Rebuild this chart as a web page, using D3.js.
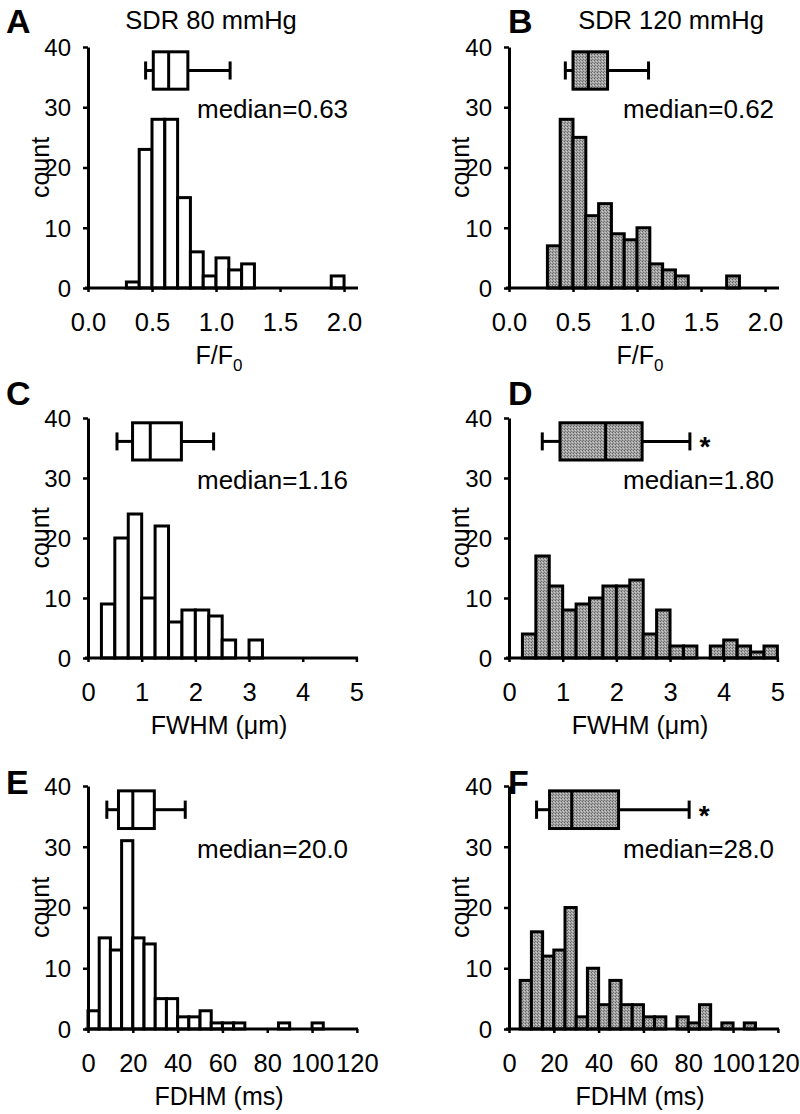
<!DOCTYPE html>
<html><head><meta charset="utf-8">
<script src="https://cdn.jsdelivr.net/npm/d3@7"></script>
<style>
body{margin:0;background:#fff}
text{font-family:"Liberation Sans",Arial,Helvetica,sans-serif;fill:#000}
</style>
</head><body>
<svg id="c" width="800" height="1114"></svg>
<script>
// ---------------- data ----------------
const titles = ["SDR 80 mmHg", "SDR 120 mmHg"];
const yTicks = [0, 10, 20, 30, 40];

const ampTicks = [0, 0.5, 1.0, 1.5, 2.0];
const ampBinStart80 = 0.3, ampBinStart120 = 0.3, ampBinWidth = 0.1;
const ampCount80  = [1, 23, 28, 28, 15, 6, 2, 5, 3, 4, 0, 0, 0, 0, 0, 0, 2];
const ampCount120 = [7, 28, 25, 12, 14, 9, 8, 10, 4, 3, 2, 0, 0, 0, 2];
const ampBox80  = [0.45, 0.51, 0.63, 0.78, 1.11];
const ampBox120 = [0.44, 0.50, 0.62, 0.77, 1.09];

const fwhmTicks = [0, 1, 2, 3, 4, 5];
const fwhmBinStart = 0.25, fwhmBinWidth = 0.25;
const fwhmCount80  = [9, 20, 24, 10, 22, 6, 8, 8, 7, 3, 0, 3];
const fwhmCount120 = [4, 17, 12, 8, 9, 10, 12, 12, 13, 4, 8, 2, 2, 0, 2, 3, 2, 1, 2];
const fwhmBox80  = [0.54, 0.83, 1.16, 1.74, 2.34];
const fwhmBox120 = [0.62, 0.95, 1.80, 2.48, 3.37];

const fdhmTicks = [0, 20, 40, 60, 80, 100, 120];
const fdhmBinStart80 = 0, fdhmBinStart120 = 5, fdhmBinWidth = 5;
const fdhmCount80  = [3, 15, 13, 31, 15, 14, 5, 5, 2, 2, 3, 1, 1, 1, 0, 0, 0, 1, 0, 0, 1];
const fdhmCount120 = [8, 16, 12, 13, 20, 2, 10, 4, 8, 4, 4, 2, 2, 0, 2, 1, 4, 0, 1, 0, 1];
const fdhmBox80  = [8.4, 13.6, 20.0, 29.6, 43.4];
const fdhmBox120 = [12.3, 18.1, 28.0, 48.9, 80.4];

const medianLabels = ["median=0.63", "median=0.62", "median=1.16", "median=1.80", "median=20.0", "median=28.0"];
const significant = [false, false, false, true, false, true];
const panelLetters = ["A", "B", "C", "D", "E", "F"];

// ---------------- layout ----------------
const svg = d3.select("#c");
const defs = svg.append("defs");
const pat = defs.append("pattern").attr("id", "stip").attr("width", 3).attr("height", 3)
  .attr("patternUnits", "userSpaceOnUse");
pat.append("rect").attr("width", 3).attr("height", 3).attr("fill", "#a0a0a0");
pat.append("rect").attr("x", 0).attr("y", 0).attr("width", 1).attr("height", 1).attr("fill", "#626262");
pat.append("rect").attr("x", 2).attr("y", 1).attr("width", 1).attr("height", 1).attr("fill", "#cdcdcd");
pat.append("rect").attr("x", 1).attr("y", 2).attr("width", 1).attr("height", 1).attr("fill", "#737373");
pat.append("rect").attr("x", 1).attr("y", 0).attr("width", 1).attr("height", 1).attr("fill", "#b8b8b8");

const cols = [{x0: 88, x1: 358, ylabX: 49, letX: 6, medX: 197, titleX: 211},
              {x0: 509, x1: 779, ylabX: 469, letX: 508, medX: 623, titleX: 671}];
const rows = [{y0: 288, y1: 47, letY: 33},
              {y0: 658, y1: 418, letY: 405},
              {y0: 1029, y1: 786, letY: 794}];

const FS_XTICK = 25.5, FS_YTICK = 24, FS_LAB = 25, FS_MED = 26, FS_TITLE = 25.5, FS_LET = 34;

const panels = [
  {counts: ampCount80,  start: ampBinStart80,  w: ampBinWidth,  box: ampBox80,  ticks: ampTicks,  dom: [0, 2.109], fmt: d3.format(".1f"), xl: "amp", fill: "#fff"},
  {counts: ampCount120, start: ampBinStart120, w: ampBinWidth,  box: ampBox120, ticks: ampTicks,  dom: [0, 2.109], fmt: d3.format(".1f"), xl: "amp", fill: "url(#stip)"},
  {counts: fwhmCount80, start: fwhmBinStart,   w: fwhmBinWidth, box: fwhmBox80, ticks: fwhmTicks, dom: [0, 5.03], fmt: d3.format("d"), xl: "FWHM (\u03bcm)", fill: "#fff"},
  {counts: fwhmCount120,start: fwhmBinStart,   w: fwhmBinWidth, box: fwhmBox120,ticks: fwhmTicks, dom: [0, 5.03], fmt: d3.format("d"), xl: "FWHM (\u03bcm)", fill: "url(#stip)"},
  {counts: fdhmCount80, start: fdhmBinStart80, w: fdhmBinWidth, box: fdhmBox80, ticks: fdhmTicks, dom: [0, 120.5], fmt: d3.format("d"), xl: "FDHM (ms)", fill: "#fff"},
  {counts: fdhmCount120,start: fdhmBinStart120,w: fdhmBinWidth, box: fdhmBox120,ticks: fdhmTicks, dom: [0, 120.5], fmt: d3.format("d"), xl: "FDHM (ms)", fill: "url(#stip)"}
];

function label(g, x, y, txt, size, opts = {}) {
  const t = g.append("text")
    .attr("transform", `translate(${x},${y})` + (opts.rotate ? ` rotate(${opts.rotate})` : ""))
    .attr("font-size", size)
    .attr("text-anchor", opts.anchor || "start");
  if (opts.bold) t.attr("font-weight", "bold");
  t.text(txt);
  return t;
}

// titles
titles.forEach((t, i) => label(svg, cols[i].titleX, 29, t, FS_TITLE, {anchor: "middle"}));

panels.forEach((p, i) => {
  const col = cols[i % 2], row = rows[Math.floor(i / 2)];
  const g = svg.append("g");
  const x = d3.scaleLinear().domain(p.dom).range([col.x0, col.x1]);
  const y = d3.scaleLinear().domain([0, 40]).range([row.y0, row.y1]);

  label(g, col.letX, row.letY, panelLetters[i], FS_LET, {bold: true});

  // histogram bars
  const bins = p.counts.map((c, k) => ({x0: p.start + k * p.w, x1: p.start + (k + 1) * p.w, c}))
    .filter(d => d.c > 0);
  g.selectAll("rect.bar").data(bins).join("rect").attr("class", "bar")
    .attr("x", d => x(d.x0)).attr("width", d => x(d.x1) - x(d.x0))
    .attr("y", d => y(d.c)).attr("height", d => y(0) - y(d.c))
    .attr("fill", p.fill).attr("stroke", "#000").attr("stroke-width", 3);

  // box plot
  const [lo, q1, med, q3, hi] = p.box;
  const bTop = 39.2, bBot = 33.0, bMid = 36.1, cap = 1.5;
  const sw = 3;
  g.append("line").attr("x1", x(lo)).attr("x2", x(q1)).attr("y1", y(bMid)).attr("y2", y(bMid))
    .attr("stroke", "#000").attr("stroke-width", sw);
  g.append("line").attr("x1", x(q3)).attr("x2", x(hi)).attr("y1", y(bMid)).attr("y2", y(bMid))
    .attr("stroke", "#000").attr("stroke-width", sw);
  [lo, hi].forEach(v => g.append("line").attr("x1", x(v)).attr("x2", x(v))
    .attr("y1", y(bMid - cap)).attr("y2", y(bMid + cap)).attr("stroke", "#000").attr("stroke-width", sw));
  g.append("rect").attr("x", x(q1)).attr("width", x(q3) - x(q1))
    .attr("y", y(bTop)).attr("height", y(bBot) - y(bTop))
    .attr("fill", p.fill).attr("stroke", "#000").attr("stroke-width", sw);
  g.append("line").attr("x1", x(med)).attr("x2", x(med)).attr("y1", y(bTop)).attr("y2", y(bBot))
    .attr("stroke", "#000").attr("stroke-width", sw);
  if (significant[i]) label(g, x(hi) + 15, y(bMid) + 15, "*", 28, {anchor: "middle", bold: true});

  // median label
  label(g, col.medX, y(28.2), medianLabels[i], FS_MED);

  // axes
  const xa = g.append("g").attr("transform", `translate(0,${row.y0})`)
    .call(d3.axisBottom(x).tickValues(p.ticks).tickFormat(p.fmt).tickSize(4).tickSizeOuter(0));
  const ya = g.append("g").attr("transform", `translate(${col.x0},0)`)
    .call(d3.axisLeft(y).tickValues(yTicks).tickSize(5).tickSizeOuter(0));
  [xa, ya].forEach(a => {
    a.select(".domain").attr("stroke", "#000").attr("stroke-width", 3);
    a.selectAll(".tick line").attr("stroke", "#000").attr("stroke-width", 2.5);
    a.selectAll("text").attr("font-family", "Liberation Sans, Arial, sans-serif").attr("fill", "#000");
  });
  xa.selectAll("text").attr("font-size", FS_XTICK);
  ya.selectAll("text").attr("font-size", FS_YTICK);
  xa.select(".domain").attr("d", `M${col.x0 - 3},0H${col.x1}`);
  xa.selectAll(".tick text").attr("y", 43).attr("dy", 0);
  ya.selectAll(".tick text").attr("x", -17).attr("dy", "0.35em");

  // axis titles
  const cx = (col.x0 + col.x1) / 2 - 4;
  if (p.xl === "amp") {
    const t = label(g, cx, row.y0 + 76, "", FS_LAB, {anchor: "middle"});
    t.append("tspan").text("F/F");
    t.append("tspan").attr("font-size", 17).attr("dy", 7).text("0");
  } else {
    label(g, cx, row.y0 + 76, p.xl, FS_LAB, {anchor: "middle"});
  }
  label(g, col.ylabX, (row.y0 + row.y1) / 2, "count", FS_LAB, {anchor: "middle", rotate: -90});
});
</script>
</body></html>
